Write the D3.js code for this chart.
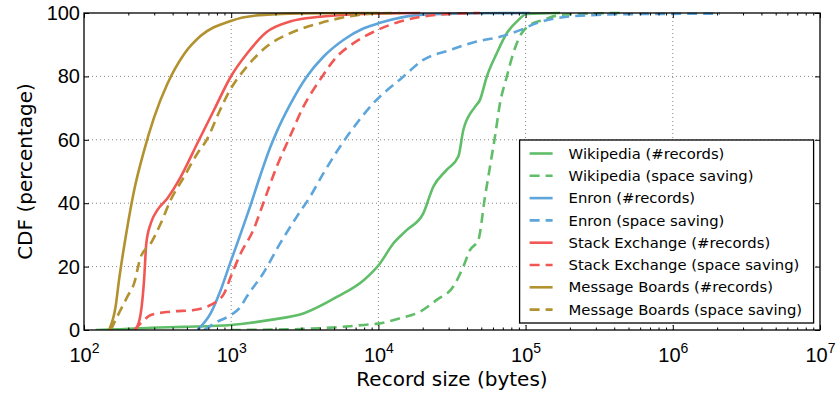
<!DOCTYPE html>
<html>
<head>
<meta charset="utf-8">
<script src="https://cdn.jsdelivr.net/npm/d3@7"></script>
<style>
  body { margin: 0; background: #fff; }
  svg { font-family: "DejaVu Sans", sans-serif; }
</style>
</head>
<body>
<div id="chart"></div>
<script>
// CDF points: [record size in bytes, percent]
var wikiRecords = [[120,0],[168,0.2],[284,0.7],[478,1],[993,1.6],[1854,3.2],[3126,5.3],[5261,10.5],[7980,15.8],
  [10250,21],[12620,27.3],[15560,31.5],[20180,36.8],[23600,45.2],[29090,50.5],[34910,54.7],[37760,63.1],
  [45290,70.4],[48980,72.6],[54450,79.9],[63680,87.3],[74470,93.6],[87100,97.3],[101700,99.7],[171400,100]];
var wikiSpace = [[993,0],[2931,0.3],[7980,1.6],[10250,2.1],[14030,3.7],[19190,5.8],[24900,9.5],[32280,13.7],
  [37760,20],[41900,25.2],[47740,28.4],[52970,42],[57280,51.5],[61940,61],[66990,71.5],[74470,79.9],
  [82410,87.3],[93970,93.6],[107200,96.2],[131900,97.8],[171400,99.4],[234400,99.7],[437500,100]];
var enronRecords = [[589,0],[726,5.3],[849,12.6],[982,21],[1148,29.8],[1343,38.9],[1570,48.5],[1837,57.5],
  [2037,62.5],[2506,71],[3258,79.9],[4227,86.2],[5781,91.5],[7889,95.1],[10250,96.9],[19190,99.4],
  [48980,99.9],[107200,100]];
var enronSpace = [[653,0],[805,2.6],[993,4.7],[1161,7.4],[1274,10.5],[1652,17.9],[2148,27.3],[2786,35.7],
  [3428,42],[4227,49.4],[5483,57.8],[7129,65.2],[9226,71.5],[14760,79.9],[20180,85.2],[30620,88.3],
  [46560,91],[66990,92.5],[91620,94.6],[118900,96.8],[190100,98.8],[437500,99.6],[2094000,99.8]];
var stackRecords = [[224,0],[243,5.3],[256,15.8],[265,27.3],[284,33.6],[315,37.8],[368,41.5],[454,48.3],
  [589,58.9],[764,69.4],[993,79.9],[1285,87.3],[1742,94],[2506,97.3],[4009,98.8],[7855,99.7],[19190,100]];
var stackSpace = [[219,0],[243,2.1],[284,4.7],[388,5.8],[558,6.3],[726,7.9],[894,11.5],[993,16.8],[1161,24.2],
  [1413,31.5],[1652,40],[2037,51.5],[2506,61],[3090,70.4],[4009,78.9],[5212,86.2],[6745,90.4],[9226,94],
  [14030,97.3],[26180,99.5],[48980,100]];
var boardsRecords = [[148,0],[164,7.4],[173,15.8],[192,29.4],[219,44],[256,56.6],[299,67],[368,77.6],
  [478,87],[621,92.8],[993,97.5],[1671,99.4],[4009,99.9],[10250,100]];
var boardsSpace = [[152,0],[168,4.2],[197,10.5],[219,14.7],[243,23.1],[284,27.3],[332,33.6],[388,41],
  [478,48.3],[589,55.7],[682,60],[840,69.4],[982,75.7],[1274,83],[1742,89.4],[2630,94],[4009,96.8],
  [6095,98.8],[8318,99.7],[14030,100]];

var seriesNames = ["Wikipedia (#records)", "Wikipedia (space saving)", "Enron (#records)", "Enron (space saving)",
  "Stack Exchange (#records)", "Stack Exchange (space saving)", "Message Boards (#records)", "Message Boards (space saving)"];
var seriesData = [wikiRecords, wikiSpace, enronRecords, enronSpace, stackRecords, stackSpace, boardsRecords, boardsSpace];
var yTicks = [0, 20, 40, 60, 80, 100];
var xDecades = [2, 3, 4, 5, 6, 7];

var colors = ["#60BD68", "#60BD68", "#5DA5DA", "#5DA5DA", "#F15854", "#F15854", "#B2912F", "#B2912F"];

var margin = {top: 13, right: 18, bottom: 63, left: 84},
    width = 838 - margin.left - margin.right,
    height = 393 - margin.top - margin.bottom;

var svg = d3.select("#chart")
  .append("svg")
    .attr("width", 838)
    .attr("height", 393)
  .append("g")
    .attr("transform", "translate(" + margin.left + "," + margin.top + ")");

var x = d3.scaleLog().domain([1e2, 1e7]).range([0, width]);
var y = d3.scaleLinear().domain([0, 100]).range([height, 0]);

var majorX = xDecades.map(function(e) { return Math.pow(10, e); });
var minorX = [];
majorX.slice(0, -1).forEach(function(d) {
  for (var k = 2; k < 10; k++) minorX.push(d * k);
});

// grid
svg.append("g").selectAll("line")
  .data(majorX.slice(1, -1))
  .enter().append("line")
    .attr("x1", d => x(d)).attr("x2", d => x(d))
    .attr("y1", 0).attr("y2", height)
    .attr("stroke", "#666").attr("stroke-width", 0.8)
    .attr("stroke-dasharray", "1,3");
svg.append("g").selectAll("line")
  .data(yTicks.slice(1, -1))
  .enter().append("line")
    .attr("y1", d => y(d)).attr("y2", d => y(d))
    .attr("x1", 0).attr("x2", width)
    .attr("stroke", "#666").attr("stroke-width", 0.8)
    .attr("stroke-dasharray", "1,3");

// lines
svg.append("clipPath").attr("id", "clip")
  .append("rect").attr("x", 0).attr("y", -2).attr("width", width).attr("height", height + 2);

var line = d3.line()
  .x(d => x(d[0]))
  .y(d => y(d[1]))
  .curve(d3.curveMonotoneX);

svg.append("g").attr("clip-path", "url(#clip)")
  .selectAll("path")
  .data(seriesData)
  .enter().append("path")
    .attr("d", line)
    .attr("fill", "none")
    .attr("stroke", (d, i) => colors[i])
    .attr("stroke-width", 2.6)
    .attr("stroke-dasharray", (d, i) => i % 2 ? "10,6" : null);

// axes, ticks pointing inwards
function styleAxis(g) {
  g.select(".domain").remove();
  g.selectAll(".tick line").attr("stroke", "#000").attr("stroke-width", 1);
}

svg.append("g")
  .attr("transform", "translate(0," + height + ")")
  .call(d3.axisBottom(x).tickValues(minorX).tickSize(-2.5).tickFormat(""))
  .call(styleAxis);
svg.append("g")
  .call(d3.axisTop(x).tickValues(minorX).tickSize(-2.5).tickFormat(""))
  .call(styleAxis);
svg.append("g")
  .call(d3.axisTop(x).tickValues(majorX).tickSize(-5).tickFormat(""))
  .call(styleAxis);
svg.append("g")
  .attr("transform", "translate(" + width + ",0)")
  .call(d3.axisRight(y).tickValues(yTicks).tickSize(-5).tickFormat(""))
  .call(styleAxis);

var xAxis = svg.append("g")
  .attr("transform", "translate(0," + height + ")")
  .call(d3.axisBottom(x).tickValues(majorX).tickSize(-5).tickPadding(0).tickFormat(""))
  .call(styleAxis);
xAxis.selectAll(".tick text").remove();
xAxis.selectAll(".tick").append("text")
  .attr("y", 32)
  .attr("fill", "#000")
  .attr("text-anchor", "middle")
  .style("font-size", "20px")
  .each(function(d, i) {
    var t = d3.select(this);
    t.append("tspan").text("10");
    t.append("tspan").attr("dy", -9).style("font-size", "14px").text(xDecades[i]);
  });

svg.append("g")
  .call(d3.axisLeft(y).tickValues(yTicks).tickSize(-5).tickPadding(4))
  .call(styleAxis)
  .selectAll(".tick text")
    .attr("fill", "#000")
    .style("font-size", "20px");

// frame
svg.append("rect")
  .attr("width", width).attr("height", height)
  .attr("fill", "none").attr("stroke", "#000").attr("stroke-width", 1.3);

// axis labels
svg.append("text")
  .attr("x", width / 2)
  .attr("y", height + 56)
  .attr("text-anchor", "middle")
  .style("font-size", "20px")
  .text("Record size (bytes)");

svg.append("text")
  .attr("transform", "translate(" + (-52) + "," + (height / 2) + ") rotate(-90)")
  .attr("text-anchor", "middle")
  .style("font-size", "20px")
  .text("CDF (percentage)");

// legend
var legend = svg.append("g")
  .attr("transform", "translate(" + (x(1e5) - 6) + "," + (y(100) + 127) + ")");
legend.append("rect")
  .attr("width", 294).attr("height", 183)
  .attr("fill", "#fff").attr("stroke", "#000").attr("stroke-width", 1.3);
var rows = legend.selectAll("g.row")
  .data(seriesNames)
  .enter().append("g")
    .attr("class", "row")
    .attr("transform", (d, i) => "translate(0," + (13.5 + i * 22.3) + ")");
rows.append("line")
  .attr("x1", 10).attr("x2", 33)
  .attr("stroke", (d, i) => colors[i])
  .attr("stroke-width", 2.6)
  .attr("stroke-dasharray", (d, i) => i % 2 ? "10,6" : null);
rows.append("text")
  .attr("x", 49)
  .attr("dy", "0.35em")
  .style("font-size", "14.8px")
  .text(d => d);
</script>
</body>
</html>
